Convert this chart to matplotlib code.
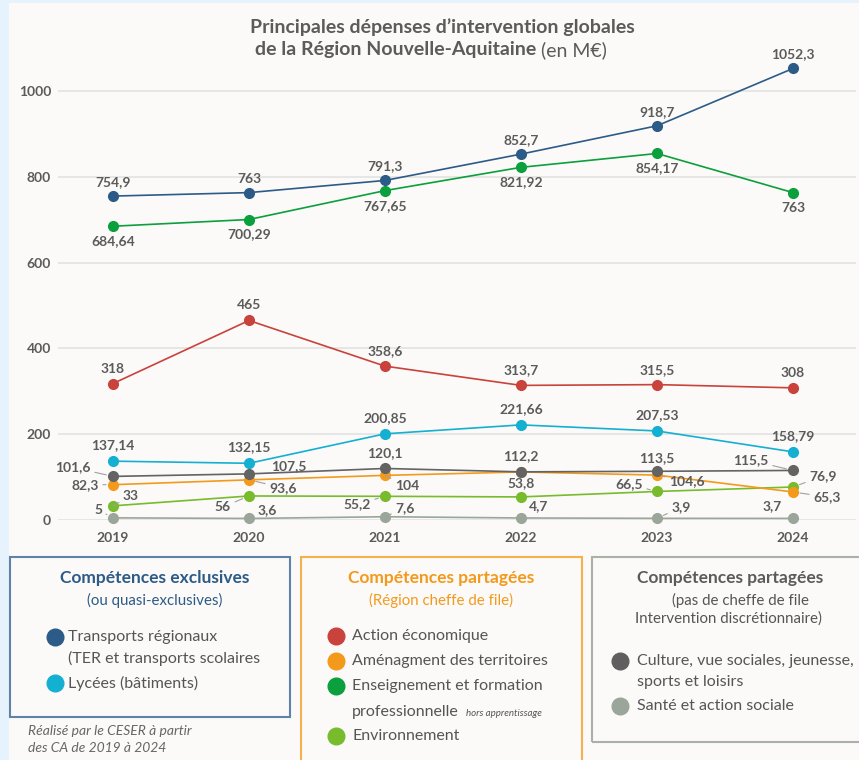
import matplotlib
matplotlib.use("Agg")
import matplotlib.pyplot as plt
from matplotlib.lines import Line2D
from matplotlib.patches import Rectangle

# =============================================================================
# Data (M€)

years = ["2019", "2020", "2021", "2022", "2023", "2024"]

transports = [754.9, 763, 791.3, 852.7, 918.7, 1052.3]
enseignement = [684.64, 700.29, 767.65, 821.92, 854.17, 763]
action_eco = [318, 465, 358.6, 313.7, 315.5, 308]
lycees = [137.14, 132.15, 200.85, 221.66, 207.53, 158.79]
culture = [101.6, 107.5, 120.1, 112.2, 113.5, 115.5]
amenagement = [82.3, 93.6, 104, 112, 104.6, 65.3]
environnement = [33, 56, 55.2, 53.8, 66.5, 76.9]
sante = [5, 3.6, 7.6, 4.7, 3.9, 3.7]

# which points get a printed value
label_show = {
    "amenagement": [True, True, True, False, True, True],
}

# label offsets in pixels (dx, dy, leader line)
offsets = {
    "transports": [(0, 14, 0)] * 6,
    "enseignement": [(0, -15, 0)] * 6,
    "action_eco": [(0, 15, 0)] * 6,
    "lycees": [(0, 16, 0)] * 6,
    "culture": [(-40, 9, 1), (40, 8, 0), (0, 15, 0), (0, 16, 0), (0, 13, 0), (-42, 10, 1)],
    "amenagement": [(-28, 0, 1), (34, -8, 1), (22, -11, 1), (0, 0, 0), (30, -6, 1), (34, -5, 1)],
    "environnement": [(18, 10, 1), (-26, -11, 1), (-28, -8, 1), (0, 14, 0), (-28, 7, 1), (30, 11, 1)],
    "sante": [(-15, 8, 1), (18, 8, 1), (20, 9, 1), (18, 12, 0), (24, 11, 1), (-21, 12, 0)],
}

series = [
    ("sante", sante, "#9ba69b"),
    ("environnement", environnement, "#78bb2c"),
    ("amenagement", amenagement, "#f39a1c"),
    ("culture", culture, "#636363"),
    ("lycees", lycees, "#14b0d2"),
    ("action_eco", action_eco, "#c9423c"),
    ("enseignement", enseignement, "#0b9f3d"),
    ("transports", transports, "#2c5b88"),
]

W, H = 859, 760
plt.rcParams["font.family"] = ["Lato", "DejaVu Sans"]
txtgray = "#5b5b5b"
itemgray = "#555555"


def fx(x):
    return x / W


def fy(y):
    return 1 - y / H


def fmt(v):
    s = ("%.2f" % v).rstrip("0").rstrip(".")
    return s.replace(".", ",")


fig = plt.figure(figsize=(W / 100, H / 100), dpi=100)
fig.patch.set_facecolor("#e6f2fc")
fig.add_artist(Rectangle((fx(9), 0), 1 - fx(9), fy(3), transform=fig.transFigure,
                         facecolor="#fbfaf8", edgecolor="none", zorder=0))

# =============================================================================
# Chart

ax = fig.add_axes([fx(58), fy(520), fx(856) - fx(58), fy(48) - fy(520)])
ax.set_facecolor("none")
xs = list(range(len(years)))

for key, vals, col in series:
    ax.plot(xs, vals, color=col, lw=1.2, marker="o", ms=7, mec=col, clip_on=False, zorder=3)
    show = label_show.get(key, [True] * len(vals))
    for i, v in enumerate(vals):
        if not show[i]:
            continue
        dx, dy, lead = offsets[key][i]
        arrow = None
        if lead:
            arrow = dict(arrowstyle="-", color="#a0a0a0", lw=0.8, shrinkA=1, shrinkB=5)
        ax.annotate(fmt(v), (i, v), xytext=(dx, dy), textcoords="offset pixels",
                    ha="center", va="center", fontsize=10, fontweight="bold",
                    color=txtgray, arrowprops=arrow, zorder=5)

ax.set_xlim(-55 / 136, (856 - 113) / 136)
ax.set_ylim(0, 1100)
ax.set_yticks([0, 200, 400, 600, 800, 1000])
ax.set_xticks(xs)
ax.set_xticklabels(years)
ax.tick_params(length=0, labelsize=10, labelcolor=txtgray)
ax.tick_params(axis="y", pad=5)
ax.tick_params(axis="x", pad=9)
for lab in ax.get_xticklabels() + ax.get_yticklabels():
    lab.set_fontweight("bold")
ax.grid(axis="y", color="#e4e4e4", lw=1.3, zorder=0)
ax.set_axisbelow(True)
for sp in ax.spines.values():
    sp.set_visible(False)

fig.text(fx(442), fy(27), "Principales dépenses d\u2019intervention globales",
         ha="center", va="center", fontsize=14, fontweight="bold", color=txtgray)
fig.text(fx(536), fy(50), "de la Région Nouvelle-Aquitaine", ha="right", va="center",
         fontsize=14, fontweight="bold", color=txtgray)
fig.text(fx(541), fy(50), "(en M€)", ha="left", va="center", fontsize=14, color=txtgray)

# =============================================================================
# Legend boxes


def box(x0, y0, x1, y1, col):
    fig.add_artist(Rectangle((fx(x0), fy(y1)), fx(x1) - fx(x0), fy(y0) - fy(y1),
                             transform=fig.transFigure, facecolor="none",
                             edgecolor=col, lw=1.5, zorder=2))


def item(x, y, col, text, gap=13):
    fig.add_artist(Line2D([fx(x)], [fy(y)], marker="o", ms=12, color=col,
                          transform=fig.transFigure))
    fig.text(fx(x + gap), fy(y), text, ha="left", va="center", fontsize=11.5, color=itemgray)


box(10, 557, 290, 717, "#5f82a8")
fig.text(fx(155), fy(578), "Compétences exclusives", ha="center", va="center",
         fontsize=12.5, fontweight="bold", color="#2c5b88")
fig.text(fx(155), fy(600), "(ou quasi-exclusives)", ha="center", va="center",
         fontsize=10.8, color="#2c5b88")
item(55, 637, "#2c5b88", "Transports régionaux")
fig.text(fx(68), fy(658), "(TER et transports scolaires", ha="left", va="center",
         fontsize=11.5, color=itemgray)
item(55, 683, "#14b0d2", "Lycées (bâtiments)")

box(301, 557, 582, 770, "#f6b04c")
fig.text(fx(441), fy(578), "Compétences partagées", ha="center", va="center",
         fontsize=12.5, fontweight="bold", color="#f39a1c")
fig.text(fx(441), fy(600), "(Région cheffe de file)", ha="center", va="center",
         fontsize=10.8, color="#f39a1c")
item(336, 636, "#c9423c", "Action économique", gap=16)
item(336, 661, "#f39a1c", "Aménagment des territoires", gap=16)
item(336, 686, "#0b9f3d", "Enseignement et formation", gap=16)
fig.text(fx(352), fy(712), "professionnelle", ha="left", va="center",
         fontsize=11.5, color=itemgray)
fig.text(fx(466), fy(713), "hors apprentissage", ha="left", va="center",
         fontsize=7, style="italic", color=itemgray)
item(336, 736, "#78bb2c", "Environnement", gap=16)

box(592, 557, 870, 742, "#a9b1a9")
fig.text(fx(730), fy(578), "Compétences partagées", ha="center", va="center",
         fontsize=12.5, fontweight="bold", color=txtgray)
fig.text(fx(740), fy(600), "(pas de cheffe de file", ha="center", va="center",
         fontsize=10.8, color=itemgray)
fig.text(fx(728), fy(619), "Intervention discrétionnaire)", ha="center", va="center",
         fontsize=10.8, color=itemgray)
item(620, 661, "#5f5f5f", "Culture, vue sociales, jeunesse,", gap=17)
fig.text(fx(637), fy(682), "sports et loisirs", ha="left", va="center",
         fontsize=11.5, color=itemgray)
item(620, 706, "#9ba69b", "Santé et action sociale", gap=17)

fig.text(fx(28), fy(731), "Réalisé par le CESER à partir", ha="left", va="center",
         fontsize=10, style="italic", color="#666666")
fig.text(fx(28), fy(748), "des CA de 2019 à 2024", ha="left", va="center",
         fontsize=10, style="italic", color="#666666")

fig.savefig("out.png", dpi=100, facecolor=fig.get_facecolor())
